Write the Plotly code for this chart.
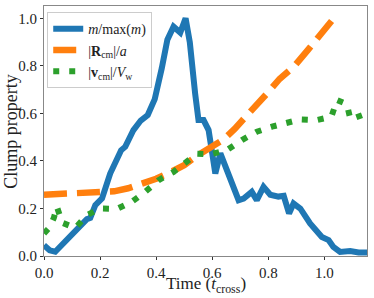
import plotly.graph_objects as go

# m / max(m)
mass_t = [0.0, 0.02, 0.04, 0.105, 0.153, 0.165, 0.183, 0.207, 0.236, 0.275, 0.29, 0.319, 0.345,
          0.37, 0.395, 0.42, 0.44, 0.462, 0.486, 0.505, 0.52, 0.539, 0.551, 0.569, 0.587, 0.6,
          0.611, 0.629, 0.652, 0.67, 0.694, 0.712, 0.741, 0.759, 0.783, 0.807, 0.836, 0.855,
          0.874, 0.89, 0.914, 0.949, 0.991, 1.015, 1.032, 1.056, 1.092, 1.122, 1.152]
mass_v = [0.045, 0.024, 0.018, 0.095, 0.155, 0.16, 0.214, 0.242, 0.347, 0.445, 0.46, 0.53, 0.57,
          0.593, 0.66, 0.79, 0.91, 0.965, 0.94, 1.0, 0.9, 0.684, 0.572, 0.572, 0.53, 0.432,
          0.347, 0.432, 0.361, 0.319, 0.235, 0.242, 0.27, 0.235, 0.291, 0.258, 0.25, 0.253,
          0.179, 0.221, 0.2, 0.137, 0.08, 0.067, 0.038, 0.017, 0.021, 0.015, 0.015]

# |R_cm| / a
rcm_t = [0.0, 0.05, 0.1, 0.15, 0.2, 0.25, 0.3, 0.35, 0.4, 0.45, 0.5, 0.55, 0.6, 0.64, 0.68,
         0.72, 0.76, 0.8, 0.84, 0.89, 0.94, 1.0, 1.03, 1.04]
rcm_v = [0.258, 0.262, 0.266, 0.268, 0.27, 0.272, 0.285, 0.302, 0.325, 0.352, 0.382, 0.425,
         0.462, 0.49, 0.535, 0.585, 0.635, 0.69, 0.745, 0.795, 0.865, 0.95, 0.99, 1.01]

# |v_cm| / V_w
vcm_t = [0.0, 0.02, 0.035, 0.046, 0.065, 0.09, 0.112, 0.153, 0.2, 0.26, 0.313, 0.361, 0.409,
         0.462, 0.504, 0.545, 0.593, 0.652, 0.706, 0.759, 0.813, 0.866, 0.914, 0.973, 1.025,
         1.045, 1.08, 1.093, 1.152]
vcm_v = [0.095, 0.12, 0.16, 0.207, 0.14, 0.125, 0.118, 0.172, 0.2, 0.198, 0.228, 0.27, 0.319,
         0.354, 0.389, 0.43, 0.428, 0.445, 0.488, 0.523, 0.544, 0.558, 0.575, 0.572, 0.586,
         0.656, 0.639, 0.575, 0.6]

tick_vals = [0.0, 0.2, 0.4, 0.6, 0.8, 1.0]
tick_text = ["0.0", "0.2", "0.4", "0.6", "0.8", "1.0"]

FONT = "Liberation Serif, Times New Roman, DejaVu Serif, serif"

fig = go.Figure()
fig.add_trace(go.Scatter(x=mass_t, y=mass_v, mode="lines",
                         line=dict(color="#1f77b4", width=6),
                         name="<i>m</i>/max(<i>m</i>)"))
fig.add_trace(go.Scatter(x=rcm_t, y=rcm_v, mode="lines",
                         line=dict(color="#ff7f0e", width=6.5, dash="23px,10px"),
                         name="|<b>R</b><sub>cm</sub>|/<i>a</i>"))
fig.add_trace(go.Scatter(x=vcm_t, y=vcm_v, mode="lines",
                         line=dict(color="#2ca02c", width=6, dash="6px,10px"),
                         name="|<b>v</b><sub>cm</sub>|/<i>V</i><sub>w</sub>"))

axis_common = dict(
    showgrid=False, zeroline=False, showline=True, linecolor="#888", linewidth=1,
    mirror=True, ticks="outside", ticklen=3, tickcolor="#333", automargin=False,
    tickfont=dict(family=FONT, size=15, color="#222"),
    tickvals=tick_vals, ticktext=tick_text,
)

fig.update_layout(
    width=374, height=298,
    margin=dict(l=44, r=7, t=6, b=42),
    paper_bgcolor="white", plot_bgcolor="white",
    font=dict(family=FONT, color="#222"),
    xaxis=dict(range=[0, 1.152], **axis_common),
    yaxis=dict(range=[0, 1.052], **axis_common),
    legend=dict(x=0.01, y=0.975, xanchor="left", yanchor="top",
                bgcolor="rgba(255,255,255,0.85)", bordercolor="#ccc", borderwidth=1,
                font=dict(family=FONT, size=14), itemwidth=30, tracegroupgap=0),
    showlegend=True,
    annotations=[
        dict(text="Time (<i>t</i><sub>cross</sub>)", xref="paper", yref="paper",
             x=0.50, y=-0.118, xanchor="center", yanchor="middle", showarrow=False,
             font=dict(family=FONT, size=17, color="#222")),
        dict(text="Clump property", xref="paper", yref="paper", textangle=-90,
             x=-0.103, y=0.5, xanchor="center", yanchor="middle", showarrow=False,
             font=dict(family=FONT, size=18, color="#222")),
    ],
)

fig.write_html("out.html", config={"displayModeBar": False},
               post_script="document.body.style.margin='0';document.body.style.overflow='hidden';")
